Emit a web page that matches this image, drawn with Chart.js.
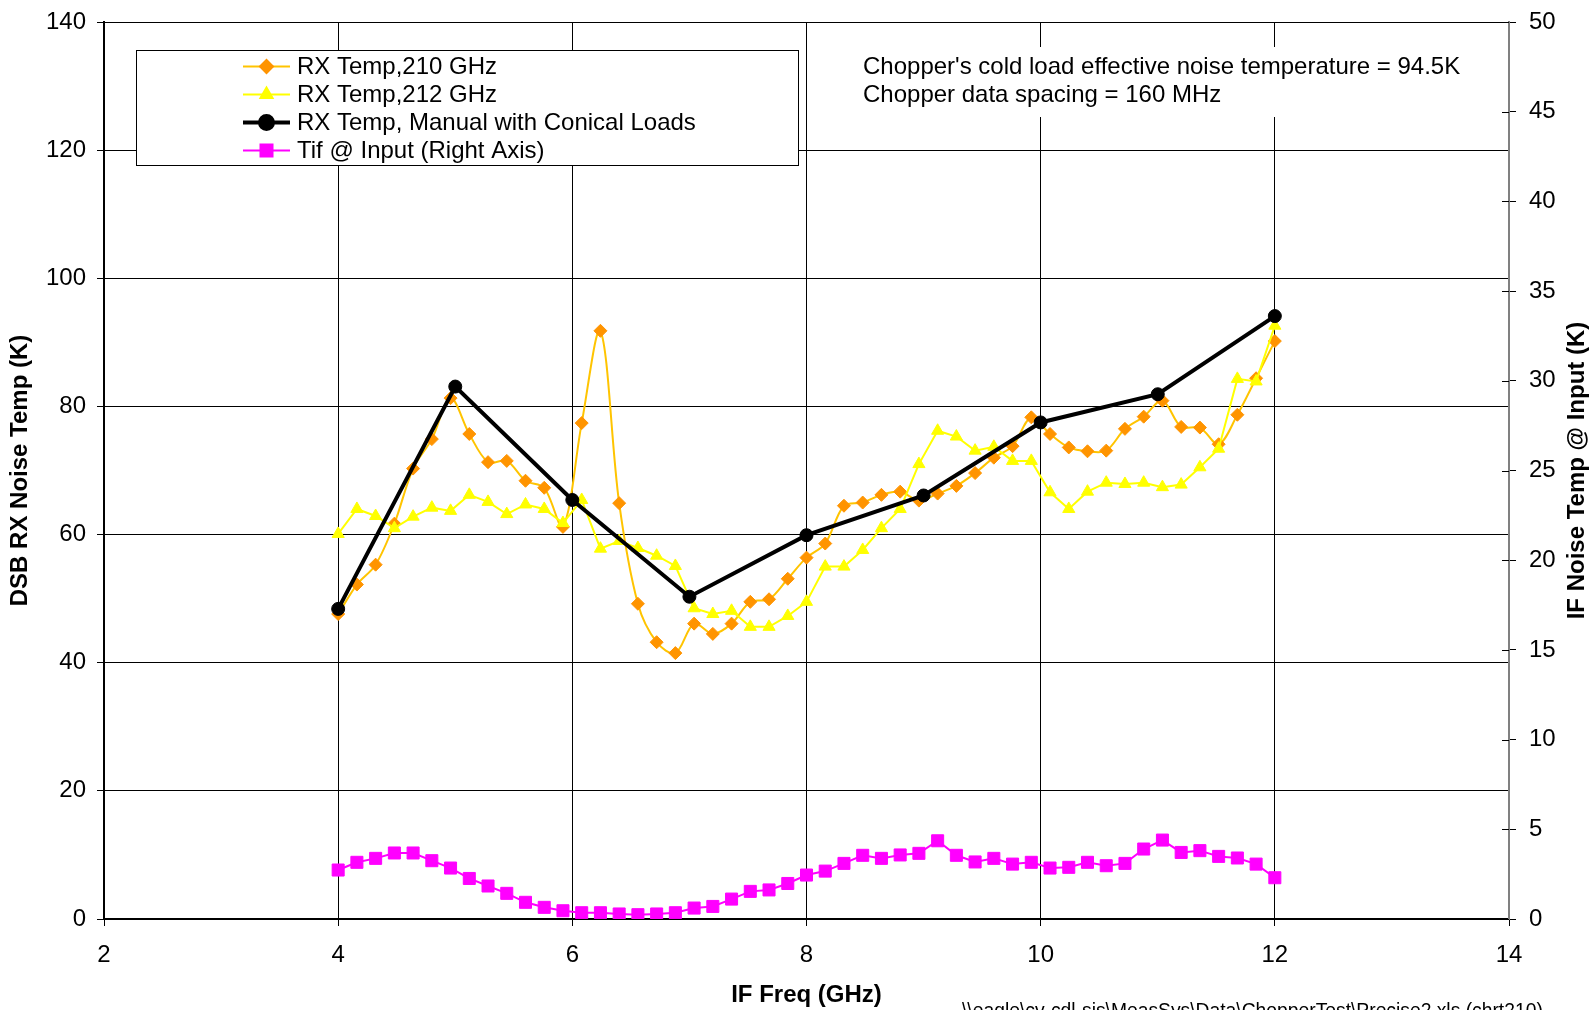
<!DOCTYPE html>
<html><head><meta charset="utf-8">
<script src="https://cdn.jsdelivr.net/npm/chart.js@4.4.1/dist/chart.umd.min.js"></script>
<style>html,body{margin:0;padding:0;background:#fff;overflow:hidden}#wrap{width:1591px;height:1010px;position:relative}</style>
</head><body><div id="wrap"><canvas id="c" width="1591" height="1010"></canvas></div>
<script>
// ---- data ----
const freqGHz = [4.00,4.16,4.32,4.48,4.64,4.80,4.96,5.12,5.28,5.44,5.60,5.76,5.92,6.08,6.24,6.40,6.56,6.72,6.88,7.04,7.20,7.36,7.52,7.68,7.84,8.00,8.16,8.32,8.48,8.64,8.80,8.96,9.12,9.28,9.44,9.60,9.76,9.92,10.08,10.24,10.40,10.56,10.72,10.88,11.04,11.20,11.36,11.52,11.68,11.84,12.00];
const rx210 = [47.6,52.2,55.3,61.7,70.3,74.9,81.3,75.7,71.3,71.5,68.4,67.3,61.2,77.4,91.8,64.9,49.2,43.2,41.5,46.1,44.5,46.1,49.5,49.9,53.1,56.4,58.6,64.5,65.0,66.2,66.7,65.3,66.4,67.6,69.6,72.0,73.8,78.3,75.7,73.6,73.0,73.1,76.5,78.4,80.9,76.8,76.7,74.1,78.7,84.4,90.2];
const rx212 = [60.1,64.0,62.9,61.0,62.8,64.2,63.7,66.2,65.1,63.2,64.7,64.0,61.8,65.4,57.8,59.0,57.9,56.7,55.1,48.5,47.6,48.1,45.6,45.6,47.3,49.5,55.0,55.0,57.6,61.0,64.0,71.0,76.2,75.3,73.1,73.7,71.5,71.5,66.6,64.0,66.7,68.1,67.9,68.1,67.4,67.8,70.5,73.4,84.3,83.9,92.6];
const tifInput = [2.73,3.16,3.38,3.68,3.68,3.25,2.84,2.26,1.84,1.43,0.93,0.65,0.46,0.35,0.35,0.28,0.24,0.28,0.35,0.61,0.70,1.11,1.54,1.62,1.98,2.45,2.67,3.10,3.55,3.38,3.57,3.66,4.36,3.55,3.18,3.38,3.06,3.16,2.84,2.88,3.16,2.97,3.10,3.90,4.40,3.71,3.81,3.49,3.40,3.06,2.30];
const manualFreqGHz = [4,5,6,7,8,9,10,11,12];
const manualRx = [48.4,83.1,65.4,50.3,59.9,66.1,77.5,81.9,94.1];
const seriesNames = ['RX Temp,210 GHz','RX Temp,212 GHz','RX Temp, Manual with Conical Loads','Tif @ Input (Right Axis)'];
const xTitle = 'IF Freq (GHz)';
const yTitle = 'DSB RX Noise Temp (K)';
const y2Title = 'IF Noise Temp @ Input (K)';
const noteLines = ["Chopper's cold load effective noise temperature = 94.5K", 'Chopper data spacing = 160 MHz'];
const footer = '\\\\eagle\\cv-cdl-sis\\MeasSys\\Data\\ChopperTest\\Precise2.xls (chrt210)';

const FONT = "'Liberation Sans', Arial, sans-serif";
const pts = (xs, ys) => xs.map((x, i) => ({x, y: ys[i]}));

const overlay = {
  id: 'overlay',
  afterDraw(chart) {
    const ctx = chart.ctx, ca = chart.chartArea;
    ctx.save();
    // inner tick marks on right axis
    const y1 = chart.scales.y1;
    ctx.strokeStyle = '#000'; ctx.lineWidth = 1;
    y1.ticks.forEach(t => {
      const py = Math.round(y1.getPixelForValue(t.value)) + 0.5;
      ctx.beginPath(); ctx.moveTo(ca.right - 7, py); ctx.lineTo(ca.right, py); ctx.stroke();
    });
    // right axis title (reads bottom-to-top)
    ctx.save();
    ctx.translate(1577, (ca.top + ca.bottom) / 2);
    ctx.rotate(-Math.PI / 2);
    ctx.font = 'bold 24px ' + FONT; ctx.fillStyle = '#000';
    ctx.textAlign = 'center'; ctx.textBaseline = 'middle';
    ctx.fillText(y2Title, 0, 0);
    ctx.restore();
    // note box
    ctx.fillStyle = '#fff';
    ctx.fillRect(853, 47, 620, 70);
    ctx.fillStyle = '#000'; ctx.font = '24px ' + FONT;
    ctx.textAlign = 'left'; ctx.textBaseline = 'middle';
    ctx.fillText(noteLines[0], 863, 67);
    ctx.fillText(noteLines[1], 863, 95);
    // legend
    const bx = 136.5, by = 50.5, bw = 662, bh = 115;
    ctx.fillStyle = '#fff'; ctx.fillRect(bx, by, bw, bh);
    ctx.strokeStyle = '#000'; ctx.lineWidth = 1; ctx.strokeRect(bx, by, bw, bh);
    const rows = [66.5, 94.5, 122.5, 150.5];
    [0, 1, 2, 3].forEach((di, r) => {
      const ds = chart.data.datasets[di];
      const y = rows[r];
      ctx.strokeStyle = ds.borderColor; ctx.lineWidth = ds.borderWidth;
      ctx.beginPath(); ctx.moveTo(243, y); ctx.lineTo(290, y); ctx.stroke();
      ctx.fillStyle = ds.pointBackgroundColor; ctx.strokeStyle = ds.pointBorderColor || ds.pointBackgroundColor;
      Chart.helpers.drawPoint(ctx, {pointStyle: ds.pointStyle, radius: ds.pointRadius, borderWidth: 1}, 266.5, y);
      ctx.fillStyle = '#000'; ctx.font = '24px ' + FONT;
      ctx.textAlign = 'left'; ctx.textBaseline = 'middle';
      ctx.fillText(ds.label, 297, y + 1);
    });
    // footer
    ctx.font = '19.3px ' + FONT; ctx.fillStyle = '#000'; ctx.textBaseline = 'alphabetic';
    ctx.fillText(footer, 962, 1016.6);
    ctx.restore();
  }
};

new Chart(document.getElementById('c'), {
  type: 'line',
  data: {
    datasets: [
      {label: seriesNames[0], data: pts(freqGHz, rx210), yAxisID: 'y', borderColor: '#FFC400', borderWidth: 2,
       pointStyle: 'rectRot', pointRadius: 6.5, pointBackgroundColor: '#FF9400', pointBorderColor: '#FF9400', pointBorderWidth: 1,
       tension: 0.33, order: 3},
      {label: seriesNames[1], data: pts(freqGHz, rx212), yAxisID: 'y', borderColor: '#FFFF00', borderWidth: 2,
       pointStyle: 'triangle', pointRadius: 7, pointBackgroundColor: '#FFFF00', pointBorderColor: '#FFFF00', pointBorderWidth: 1,
       tension: 0, order: 2},
      {label: seriesNames[2], data: pts(manualFreqGHz, manualRx), yAxisID: 'y', borderColor: '#000000', borderWidth: 4,
       pointStyle: 'circle', pointRadius: 6.5, pointBackgroundColor: '#000000', pointBorderColor: '#000000', pointBorderWidth: 1,
       tension: 0, order: 1},
      {label: seriesNames[3], data: pts(freqGHz, tifInput), yAxisID: 'y1', borderColor: '#FF00FF', borderWidth: 2,
       pointStyle: 'rect', pointRadius: 8.5, pointBackgroundColor: '#FF00FF', pointBorderColor: '#FF00FF', pointBorderWidth: 1,
       tension: 0, order: 4}
    ]
  },
  options: {
    responsive: false, maintainAspectRatio: false, animation: false, devicePixelRatio: 1,
    layout: {padding: {top: 22, left: 0, right: 0, bottom: 0}},
    plugins: {legend: {display: false}, tooltip: {enabled: false}},
    scales: {
      x: {type: 'linear', position: 'bottom', min: 2, max: 14,
        ticks: {stepSize: 2, color: '#000', font: {family: FONT, size: 24}, padding: 15, maxRotation: 0},
        grid: {color: '#000', lineWidth: 1, tickLength: 7, tickColor: '#000'},
        border: {color: '#000', width: 2},
        title: {display: true, text: xTitle, color: '#000', font: {family: FONT, size: 24, weight: 'bold', lineHeight: 1.2}, padding: {top: 0, bottom: 0}},
        afterFit(s) { s.height = 91; s.paddingLeft = 0; s.paddingRight = 0; }},
      y: {type: 'linear', position: 'left', min: 0, max: 140,
        ticks: {stepSize: 20, color: '#000', font: {family: FONT, size: 24}, padding: 11},
        grid: {color: '#000', lineWidth: 1, tickLength: 7, tickColor: '#000'},
        border: {color: '#000', width: 2},
        title: {display: true, text: yTitle, color: '#000', font: {family: FONT, size: 24, weight: 'bold', lineHeight: 1.2}, padding: {top: 6, bottom: 0}},
        afterFit(s) { s.width = 104; s.paddingTop = 0; s.paddingBottom = 0; }},
      y1: {type: 'linear', position: 'right', min: 0, max: 50,
        ticks: {stepSize: 5, color: '#000', font: {family: FONT, size: 24}, padding: 13},
        grid: {drawOnChartArea: false, color: '#000', tickLength: 7, tickColor: '#000'},
        border: {color: '#808080', width: 2},
        afterFit(s) { s.width = 82; s.paddingTop = 0; s.paddingBottom = 0; }}
    }
  },
  plugins: [overlay]
});
</script></body></html>
